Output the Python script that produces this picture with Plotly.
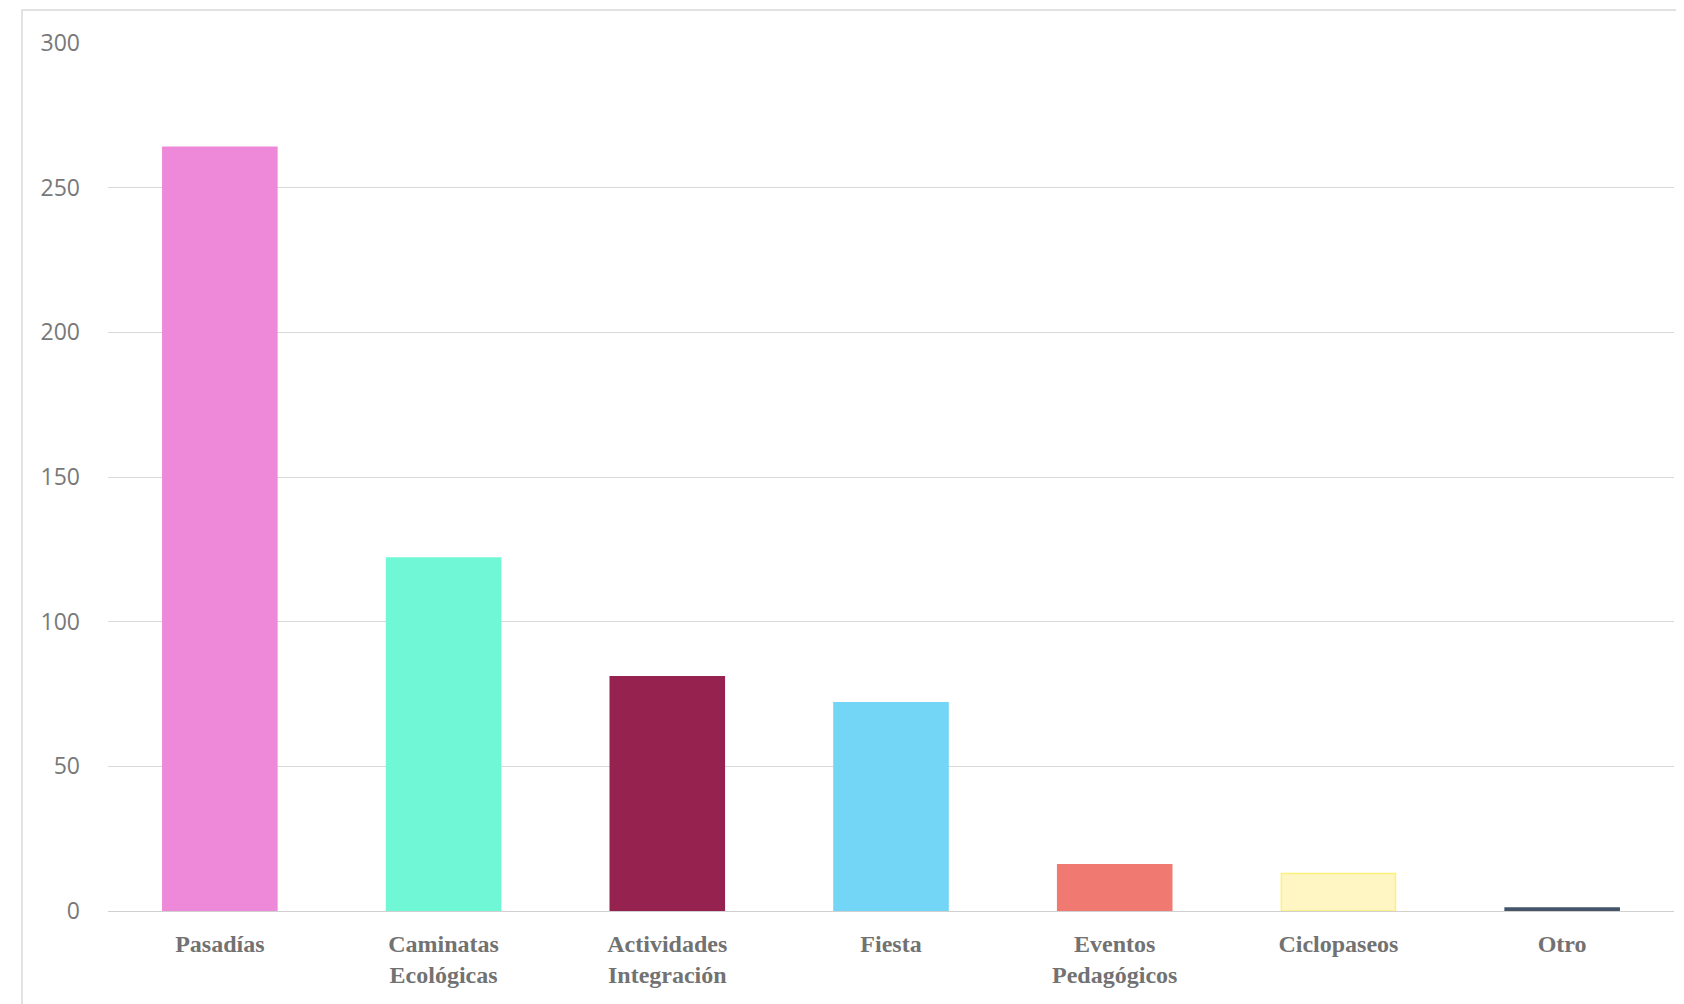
import plotly.graph_objects as go

categories = ["Pasadías", "Caminatas<br>Ecológicas", "Actividades<br>Integración", "Fiesta",
              "Eventos<br>Pedagógicos", "Ciclopaseos", "Otro"]
values = [264, 122, 81, 72, 16, 13, 1]
fill_colors = ["#EE88D8", "#70F8D6", "#962250", "#74D6F6", "#F07A72", "#FFF6C4", "#44546A"]
line_colors = ["#EE88D8", "#70F8D6", "#962250", "#74D6F6", "#F07A72", "#FFF07A", "#44546A"]
y_ticks = [0, 50, 100, 150, 200, 250, 300]

fig = go.Figure(go.Bar(
    x=categories, y=values,
    marker=dict(color=fill_colors, line=dict(color=line_colors, width=1.5)),
    width=0.51,
))

W, H = 1676, 996
ml, mr, mt, mb = 100, 10, 35, 93
pw, ph = W - ml - mr, H - mt - mb

fig.update_layout(
    width=W, height=H,
    margin=dict(l=ml, r=mr, t=mt, b=mb, autoexpand=False),
    paper_bgcolor="white", plot_bgcolor="white",
    showlegend=False,
    xaxis=dict(
        showgrid=False, showline=False, zeroline=False, ticks="",
        tickfont=dict(family="Liberation Serif", size=24, color="#727272", weight="bold"),
        ticklabelstandoff=16,
    ),
    yaxis=dict(
        range=[0, 300], tickvals=y_ticks, showgrid=True, gridcolor="#D9D9D9", gridwidth=1,
        zeroline=True, zerolinecolor="#D0D0D0", zerolinewidth=1,
        showline=False, ticks="",
        tickfont=dict(family="Open Sans", size=23, color="#787878"),
        ticklabelstandoff=27,
    ),
    shapes=[dict(
        type="rect", xref="paper", yref="paper",
        x0=(14 - ml) / pw, x1=1 + (mr + 20) / pw,
        y0=-(mb + 20) / ph, y1=1 + (mt - 2) / ph,
        line=dict(color="#D9D9D9", width=1.5), fillcolor="rgba(0,0,0,0)", layer="below",
    )],
)

fig.write_html("out.html")
